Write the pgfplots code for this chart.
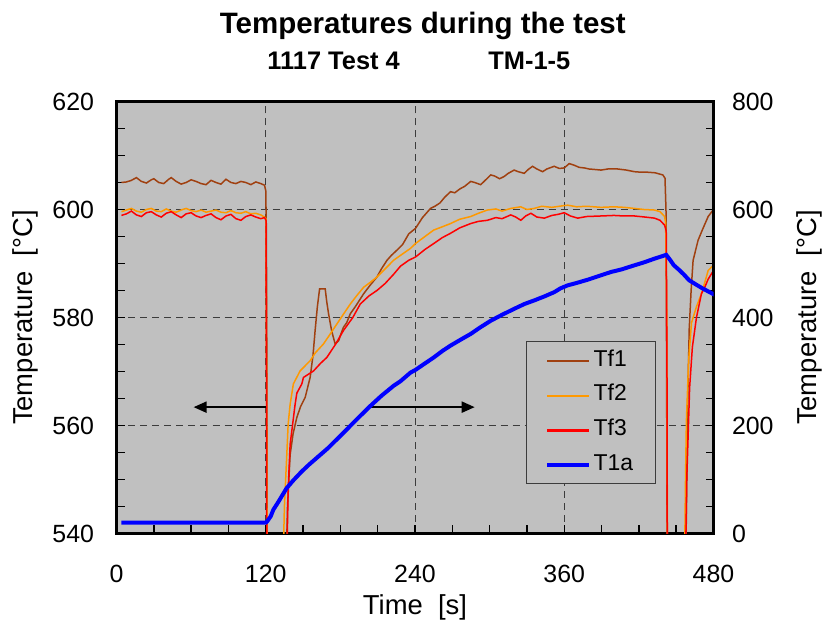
\documentclass[border=0pt]{standalone}
\usepackage{fontspec}
\setmainfont{Liberation Sans}
\usepackage{pgfplots}
\pgfplotsset{compat=1.18}
\usetikzlibrary{arrows.meta,calc}
\definecolor{tfone}{RGB}{160,64,16}
\definecolor{tftwo}{RGB}{255,153,0}
\definecolor{tfred}{RGB}{255,0,0}
\definecolor{tone}{RGB}{0,0,255}
\definecolor{plotbg}{RGB}{192,192,192}
\definecolor{gridc}{RGB}{60,60,60}
\pgfplotsset{
  common/.style={
    scale only axis, width=597bp, height=432bp, at={(0,0)}, anchor=south west,
    xmin=0, xmax=480,
    tick align=inside,
    major tick length=8bp, minor tick length=8bp,
    every tick/.append style={black, line width=1.5bp},
    axis line style={line width=2.5bp, black},
    ticklabel style={font=\fontsize{25}{30}\selectfont},
    /pgf/number format/assume math mode=true,
    /pgf/number format/1000 sep={},
    label style={font=\fontsize{27.5}{32}\selectfont},
    clip mode=individual,
  },
}
\begin{document}
\begin{tikzpicture}
\begin{axis}[common, name=ax,
  ymin=540, ymax=620, ytick={540,560,...,620}, minor y tick num=3,
  xtick={0,120,...,480}, minor x tick num=3,
  xtick pos=bottom, ytick pos=left,
  axis background/.style={fill=plotbg},
  grid=major, major grid style={gridc, line width=0.8bp, dash pattern=on 7bp off 5bp},
  xticklabel shift=28bp, yticklabel shift=19bp,
  xlabel={Time\ \ [s]}, ylabel={Temperature\ \ [°C]},
  xlabel style={at={(axis description cs:0.5,-0.170)}, anchor=center},
  ylabel style={at={(axis description cs:-0.152,0.5)}, anchor=center},
  legend style={at={(0.686,0.446)}, anchor=north west, draw=gridc, fill=plotbg,
    font=\fontsize{23}{27}\selectfont, row sep=12.7bp, inner xsep=19bp, inner ysep=8bp,
    nodes={inner xsep=2.5bp, inner ysep=0bp, text height=17bp, text depth=5bp}},
  legend cell align=left,
  legend image code/.code={\draw[#1] (0bp,-1bp) -- (42bp,-1bp);},
]
% Tf1
\addplot[draw=tfone, line width=1.5bp, forget plot] coordinates {
(4,605.0)(8,605.1)(12,605.4)(16,605.9)(20,605.2)(24,604.9)(28,605.5)(30,605.7)(34,605.0)(38,604.8)
(42,605.6)(44,605.9)(48,605.2)(52,604.7)(56,605.0)(60,605.5)(64,605.2)(68,604.8)(72,604.6)(76,605.4)
(80,605.0)(84,604.7)(88,605.6)(92,605.0)(96,604.8)(100,605.2)(104,605.0)(108,604.6)(112,605.1)(116,604.8)
(119,604.5)(120,603.5)(120.5,596)(120.9,570)(121.3,530)(136,530)(137.5,545)(139.6,554.6)(142,558.5)
(145,561.5)(148,563.5)(151.7,565.2)(155.7,568.9)(158,573)(159.7,577.6)(161.5,582)(163.3,585.3)
(167.8,585.3)(169,583)(170.5,580.7)(173,577.5)(175.8,575.1)(178.6,575.7)(180.5,577)(182.5,578.2)
(185,579)(188,580.7)(192,582)(198.7,584.4)(204,586)(209.4,587.5)(213,589)(217.5,590.6)(221,591.5)
(225.6,592.5)(230,593.5)(235,595.5)(240.4,596.5)(246,598.5)(252.5,600.2)(256,600.6)(260,601.2)
(264,602.3)(268.6,603.3)(272,603.1)(276,603.8)(280,604.3)(284.8,605.2)(288,605.0)(292.8,604.6)
(296,605.3)(300.9,606.4)(304,606.2)(308,605.7)(311.6,606.1)(315,606.7)(319.7,607.3)(323,607.0)
(327.8,606.7)(331,607.4)(334.5,608)(338,607.5)(342.6,607.0)(346,607.5)(351.9,608)(356,607.6)
(360,607.7)(364,608.5)(368,608.2)(372,607.8)(376.1,607.7)(380,607.5)(385,607.4)(389.6,607.3)
(395,607.5)(403,607.5)(410,607.3)(416.5,607.0)(422,606.9)(427.2,606.9)(433,606.8)(439.3,606.4)
(441,605.8)(441.8,600)(442.3,570)(442.8,530)(457.5,530)(458.5,550)(459.3,565)(460.5,578)
(462,585)(463.6,590.6)(467.6,594.3)(471,596.2)(475.7,598.7)(480,600)(481,600.4)
};
% Tf2
\addplot[draw=tftwo, line width=1.5bp, forget plot] coordinates {
(4,599.6)(8,599.9)(12,600.2)(16,599.7)(20,599.5)(24,600.0)(28,600.2)(32,599.7)(36,599.6)(40,600.1)
(44,599.7)(48,599.5)(52,599.9)(56,600.2)(60,599.8)(64,599.6)(68,599.9)(72,599.5)(76,599.7)(80,599.9)
(84,599.5)(88,599.4)(92,599.8)(96,599.4)(100,599.3)(104,599.6)(108,599.2)(112,599.3)(116,599.0)
(119,598.6)(120.2,598.3)(120.8,560)(121.2,530)(133.5,530)(135,545)(137,555)(138,560.2)(139.6,563.9)
(142.2,567.7)(147.6,570.1)(155.7,572)(160,573.5)(166.4,575.1)(172,577)(177.2,578.8)(183,580.8)
(188,582.5)(193,584)(198.7,585.6)(204,586.5)(209.4,587.5)(216,589)(222.8,590.6)(228.3,591.5)
(236.4,592.8)(240.4,593.7)(248,595)(255.1,596.2)(262,596.8)(268.6,597.4)(276,598.2)(284.8,598.7)
(291,599.3)(298.2,599.9)(305,600.1)(310,599.7)(317,600.2)(325,600.5)(330,600.0)(335.8,600.2)
(342,600.6)(350,600.4)(356,600.6)(362.7,600.8)(370,600.5)(378,600.6)(389.6,600.4)(400,600.5)
(408,600.4)(416.5,600.2)(424,600.0)(432.6,599.9)(437,599.6)(440.7,598.7)(441.5,597.5)(442.5,580)
(443,530)(456.5,530)(457.5,550)(458.2,560.8)(460,572)(462.3,579)(466.3,582)(470.3,584.4)
(473,586.5)(475.7,588.7)(480,589.7)(481,590)
};
% Tf3
\addplot[draw=tfred, line width=1.5bp, forget plot] coordinates {
(4,598.9)(8,599.2)(12,599.7)(16,599.0)(20,598.7)(24,599.4)(28,599.6)(32,599.0)(36,598.6)(40,599.3)
(44,599.6)(48,599.0)(52,598.5)(56,599.2)(60,599.4)(64,598.8)(68,598.5)(72,598.9)(76,599.2)(80,598.5)
(84,598.1)(88,598.8)(92,599.1)(96,598.3)(100,598.0)(104,598.7)(108,599.0)(112,598.6)(116,598.3)
(119,598.5)(120.2,598.0)(120.6,570)(120.9,530)(136.5,530)(138,548)(139.6,556.5)(143.6,563.9)
(145,566)(149,567.7)(150.3,568.9)(158.4,570.1)(164,571.5)(169.1,572.6)(176,575)(182.5,577.6)
(190,580)(196,582.5)(203,584)(209.4,585)(216,586.3)(222.8,588)(228.3,589.5)(235,590.6)(240.4,591.2)
(248,592.6)(255.1,593.7)(262,594.8)(268.6,595.6)(276,596.6)(284.8,597.4)(291,597.8)(298.2,598.0)
(305,598.5)(310,598.3)(317,599.0)(321,598.6)(325.1,598.0)(329,598.8)(333.2,599.3)(338,598.6)
(344,598.4)(350,598.9)(355,599.1)(360,599.4)(365,598.8)(370.8,598.4)(378,598.7)(389.6,598.8)
(400,598.9)(408,598.8)(416.5,598.8)(425,598.6)(432.6,598.4)(437,598.0)(440.7,597.1)(442,596)
(442.6,570)(442.9,530)(457.2,530)(458.5,550)(460.8,567)(463,574.5)(466.3,580)(470.3,584.4)
(473,585.6)(475.7,587.1)(480,588.7)(481,589)
};
\addlegendimage{draw=tfone, line width=2.2bp}\addlegendentry{Tf1}
\addlegendimage{draw=tftwo, line width=2.2bp}\addlegendentry{Tf2}
\addlegendimage{draw=tfred, line width=2.2bp}\addlegendentry{Tf3}
\addlegendimage{draw=tone, line width=4bp}\addlegendentry{T1a}
\draw[line width=2bp, -{Triangle[length=13bp,width=11bp]}] (axis cs:120.2,563.4) -- (axis cs:62,563.4);
\draw[line width=2bp, -{Triangle[length=13bp,width=11bp]}] (axis cs:202.5,563.4) -- (axis cs:288,563.4);
\node[font=\bfseries\fontsize{29.6}{34}\selectfont, anchor=base] at (axis description cs:0.513,1.158) {Temperatures during the test};
\node[font=\bfseries\fontsize{25.5}{30}\selectfont, anchor=base west] at (axis description cs:0.247,1.073) {1117 Test 4};
\node[font=\bfseries\fontsize{25.5}{30}\selectfont, anchor=base west] at (axis description cs:0.617,1.073) {TM-1-5};
\end{axis}
\begin{axis}[common,
  ymin=0, ymax=800, ytick={0,200,...,800}, minor y tick num=3,
  axis x line=none, axis y line*=right,
  yticklabel shift=15bp,
  ylabel={Temperature\ \ [°C]},
  ylabel style={at={(axis description cs:1.160,0.5)}, anchor=center},
]
\addplot[draw=tone, line width=4bp] coordinates {
(4,20)(120,20)(121,22)(124,32)(126.1,44)(130,58)(136.8,84)(142,98)(149,115)(155,128)(161,140)
(170,158)(182.5,186.6)(193,211)(204,236)(213,255)(222.8,273.5)(228.3,282)(236.4,298)(240.4,303)
(248,315)(255.1,326)(262,338)(268.6,348)(276,358)(284.8,369.6)(292,381)(300.9,394)(310,405)
(319.7,416)(328,425)(335.8,431.6)(344,439)(352,447)(357,454)(362.7,459.5)(370,464)(378.9,470)
(388,477)(397.6,484.3)(406,489)(416.5,496.7)(424,502)(432.6,509)(438,513)(442,516)(445,507)
(448,497)(452.4,488)(456,480)(460.4,469)(466,461)(471.1,454)(476,448)(481,442)
};
\end{axis}
\pgfresetboundingbox
\path ($(ax.south west)+(-116.5bp,-101.5bp)$) rectangle ($(ax.north east)+(114.5bp,101.5bp)$);
\end{tikzpicture}
\end{document}
